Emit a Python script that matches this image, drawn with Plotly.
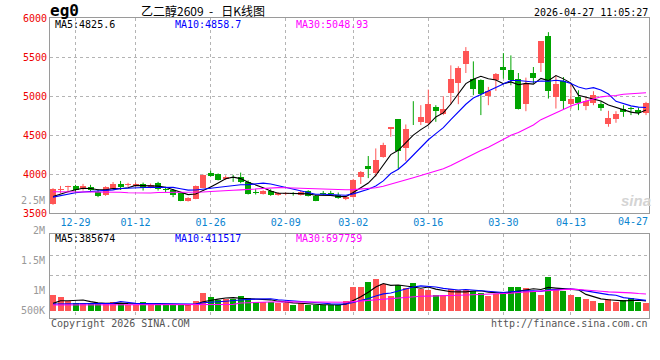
import plotly.graph_objects as go

# ---------------- data ----------------
dates = ["12-24","12-25","12-26","12-29","12-30","12-31","01-05","01-06","01-07","01-08",
         "01-09","01-12","01-13","01-14","01-15","01-16","01-19","01-20","01-21","01-22",
         "01-23","01-26","01-27","01-28","01-29","01-30","02-02","02-03","02-04","02-05",
         "02-06","02-09","02-10","02-11","02-12","02-13","02-24","02-25","02-26","02-27",
         "03-02","03-03","03-04","03-05","03-06","03-09","03-10","03-11","03-12","03-13",
         "03-16","03-17","03-18","03-19","03-20","03-23","03-24","03-25","03-26","03-27",
         "03-30","03-31","04-01","04-02","04-03","04-07","04-08","04-09","04-10","04-13",
         "04-14","04-15","04-16","04-17","04-20","04-21","04-22","04-23","04-24","04-27"]

opens = [3621,3800,3830,3850,3808,3834,3778,3736,3808,3876,
         3860,3851,3876,3834,3885,3812,3800,3757,3663,3685,
         3829,4021,4004,3936,3955,3961,3906,3778,3749,3791,
         3740,3745,3752,3738,3787,3723,3762,3755,3736,3681,
         3712,3962,4106,4012,4225,4582,4701,4340,4655,4671,
         4660,4863,4769,5041,5169,5415,5224,5211,5003,5211,
         5373,5330,5224,4905,5301,5424,5764,4990,5190,4897,
         4990,4871,4914,4905,4642,4701,4829,4845,4820,4786]
highs = [3821,3850,3852,3864,3876,3864,3808,3845,3900,3914,
         3890,3893,3893,3880,3902,3838,3812,3770,3706,3855,
         3995,4045,4010,3985,3991,4021,3920,3808,3795,3808,
         3770,3766,3770,3787,3795,3736,3785,3787,3766,3720,
         3940,4040,4233,4330,4403,4603,4705,4637,4935,4884,
         5084,4884,4999,5394,5382,5628,5445,5215,5118,5296,
         5551,5522,5296,5237,5373,5705,5819,5267,5245,5152,
         5075,4990,5063,4935,4812,4807,4884,4863,4854,4927]
lows = [3608,3757,3778,3770,3791,3770,3706,3723,3800,3800,
        3838,3838,3791,3821,3791,3770,3706,3655,3650,3680,
        3825,3970,3920,3925,3902,3885,3740,3740,3740,3723,
        3725,3730,3725,3727,3715,3655,3735,3723,3685,3668,
        3700,3875,3950,3970,4212,4480,4063,4170,4630,4630,
        4629,4671,4757,4897,4897,5296,5012,4757,4884,5067,
        5224,5139,4829,4807,5160,5309,4969,4841,4833,4841,
        4820,4820,4884,4812,4608,4659,4735,4757,4757,4757]
closes = [3808,3806,3850,3792,3850,3792,3727,3834,3876,3834,
          3866,3876,3821,3864,3808,3793,3736,3663,3694,3851,
          3991,3978,3927,3970,3948,3898,3749,3757,3787,3736,
          3755,3752,3745,3766,3723,3663,3752,3745,3698,3708,
          3927,4029,4072,4182,4374,4600,4301,4578,4650,4727,
          4897,4812,4841,5216,5360,5573,5097,5024,5063,5279,
          5339,5203,4841,5152,5237,5700,5067,5160,4939,4969,
          4914,4939,5012,4854,4714,4769,4799,4838,4786,4914]

ma5 = [3715,3750,3775,3800,3821,3818,3802,3799,3816,3813,
       3827,3857,3855,3852,3847,3832,3804,3773,3739,3747,
       3787,3835,3888,3943,3963,3944,3898,3864,3828,3785,
       3757,3757,3755,3751,3748,3730,3729,3729,3716,3713,
       3766,3821,3887,3984,4117,4251,4306,4407,4501,4571,
       4631,4733,4785,4899,5025,5160,5217,5254,5223,5207,
       5160,5182,5145,5163,5154,5227,5199,5263,5221,5167,
       5010,4984,4955,4938,4887,4858,4830,4795,4781,4821]
ma10 = [3707,3728,3748,3762,3772,3778,3782,3788,3800,3817,
        3823,3830,3827,3834,3830,3830,3831,3814,3796,3797,
        3810,3820,3831,3841,3855,3866,3867,3876,3886,3874,
        3851,3828,3810,3789,3767,3743,3743,3742,3733,3731,
        3748,3775,3808,3850,3915,4009,4064,4147,4242,4344,
        4441,4519,4596,4700,4798,4896,4975,5020,5061,5116,
        5160,5200,5200,5193,5181,5194,5191,5204,5192,5161,
        5118,5092,5109,5079,5027,4934,4907,4875,4859,4854]
ma30 = [3775,3775,3775,3775,3775,3770,3770,3770,3770,3770,
        3762,3760,3760,3760,3765,3765,3765,3765,3765,3766,
        3772,3778,3786,3791,3795,3800,3806,3815,3822,3829,
        3828,3826,3822,3822,3817,3813,3814,3811,3805,3801,
        3803,3808,3816,3827,3846,3873,3891,3922,3954,3983,
        4013,4041,4071,4113,4160,4216,4261,4303,4346,4397,
        4450,4498,4535,4581,4631,4699,4743,4790,4832,4874,
        4907,4937,4968,4991,5002,5008,5024,5033,5037,5044]

volumes = [634500,553500,391500,297000,297000,297000,297000,297000,351000,297000,
           229500,229500,351000,270000,310500,229500,229500,229500,229500,391500,
           729000,567000,432000,459000,459000,594000,513000,364500,364500,364500,
           324000,297000,229500,297000,229500,229500,229500,229500,229500,405000,
           972000,972000,1174500,1282500,1093500,607500,1053000,904500,1134000,864000,
           837000,634500,634500,877500,837000,837000,796500,702000,594000,675000,
           769500,972000,972000,918000,810000,634500,1377000,837000,810000,634500,
           553500,472500,405000,324000,459000,364500,432000,499500,364500,324000]
vol_ma5 = [297000,405000,405000,405000,434700,367200,315900,297000,307800,307800,
           294300,280800,291600,275400,278100,278100,278100,253800,245700,261900,
           361800,429300,469800,515700,529200,502200,491400,477900,459000,440100,
           386100,342900,315900,302400,275400,256500,243000,243000,229500,264600,
           413100,561600,750600,961200,1098900,1026000,1042200,988200,958500,912600,
           958500,874800,820800,769500,764100,764100,796500,810000,753300,720900,
           707400,742500,796500,861300,888300,861300,942300,915300,893700,858600,
           842400,661500,575100,477900,442800,405000,396900,415800,423900,396900]
vol_ma10 = [270000,270000,270000,270000,297000,297000,297000,297000,297000,371250,
            330750,298350,294300,291600,292950,286200,279450,272700,260550,270000,
            319950,353700,361800,380700,395550,432000,460350,473850,487350,484650,
            444150,417150,396900,380700,357750,321300,292950,279450,265950,270000,
            334800,402300,496800,595350,681750,719550,801900,869400,959850,1005750,
            992250,958500,904500,864000,838350,861300,835650,815400,761400,742500,
            735750,769500,803250,807300,804600,784350,842400,855900,877500,873450,
            851850,801900,745200,685800,650700,623700,529200,495450,450900,419850]
vol_ma30 = [229500,229500,229500,229500,229500,229500,229500,229500,229500,229500,
            229500,229500,229500,229500,229500,229500,229500,229500,229500,229500,
            256500,256500,256500,256500,256500,310500,324000,344250,357750,375300,
            364500,356400,351000,351000,348300,346950,344250,341550,337500,341550,
            365850,391500,418500,452250,477900,491400,518400,541350,571050,587250,
            589950,592650,599400,612900,626400,634500,643950,654750,662850,672300,
            687150,710100,734400,756000,774900,788400,826200,846450,866700,873450,
            859950,843750,818100,785700,764100,756000,735750,722250,696600,679050]

tick_dates = ["12-29", "01-12", "01-26", "02-09", "03-02", "03-16", "03-30", "04-13"]
end_date_label = "04-27"
price_ticks = [3500, 4000, 4500, 5000, 5500, 6000]
vol_axis_labels = ["2.5M", "2M", "1.5M", "1M", "500K"]
price_legend = ["MA5:4825.6", "MA10:4858.7", "MA30:5048.93"]
vol_legend = ["MA5:385674", "MA10:411517", "MA30:697759"]
title_code = "eg0"
title_name = "乙二醇2609&nbsp;&nbsp;-&nbsp;&nbsp; 日K线图"
timestamp = "2026-04-27 11:05:27"
footer_left = "Copyright 2026 SINA.COM"
footer_right = "http://finance.sina.com.cn"

# ---------------- styling ----------------
RED = "#ff5555"
GREEN = "#00a400"
MA_COLORS = ["#000000", "#0000ff", "#ff00ff"]
GRID = "#b4b4b4"
BORDER = "#9a9a9a"
MONO = "DejaVu Sans Mono"

W, H = 660, 360
ML, MR, MT, MB = 50, 11, 18, 42
PW, PH = W - ML - MR, H - MT - MB


def px(x):
    return (x - ML) / PW


def py(y):
    return (H - MB - y) / PH


idx = list(range(len(dates)))
colors = [RED if c >= o else GREEN for o, c in zip(opens, closes)]
body_base = [min(o, c) for o, c in zip(opens, closes)]
body_h = [max(abs(c - o), 10) for o, c in zip(opens, closes)]

fig = go.Figure()

# wicks
for col in (RED, GREEN):
    xs, ys = [], []
    for i in idx:
        if colors[i] == col:
            xs += [i, i, None]
            ys += [lows[i], highs[i], None]
    fig.add_trace(go.Scatter(x=xs, y=ys, mode="lines", line=dict(color=col, width=1),
                             xaxis="x", yaxis="y", hoverinfo="skip", showlegend=False))

# bodies
fig.add_trace(go.Bar(x=idx, y=body_h, base=body_base, width=0.8,
                     marker=dict(color=colors, line=dict(width=0)),
                     xaxis="x", yaxis="y", showlegend=False))

for series, col in zip([ma5, ma10, ma30], MA_COLORS):
    fig.add_trace(go.Scatter(x=idx, y=series, mode="lines", line=dict(color=col, width=1.1),
                             xaxis="x", yaxis="y", showlegend=False))

# volume
fig.add_trace(go.Bar(x=idx, y=volumes, width=0.8,
                     marker=dict(color=colors, line=dict(width=0)),
                     xaxis="x2", yaxis="y2", showlegend=False))
for series, col in zip([vol_ma5, vol_ma10, vol_ma30], MA_COLORS):
    fig.add_trace(go.Scatter(x=idx, y=series, mode="lines", line=dict(color=col, width=1.1),
                             xaxis="x2", yaxis="y2", showlegend=False))

tickvals = [dates.index(d) for d in tick_dates]
xr = [-0.4, len(dates) - 0.6]

main_bottom = 213.3
vol_top = 234.3
vol_zero_px = 310.7
vol_per_px = 40500

axis_common = dict(showline=True, mirror=True, linecolor=BORDER, linewidth=1,
                   zeroline=False, gridcolor=GRID, griddash="dot", gridwidth=1)

fig.update_layout(
    width=W, height=H,
    margin=dict(l=ML, r=MR, t=MT, b=MB),
    paper_bgcolor="white", plot_bgcolor="white",
    barmode="overlay", bargap=0,
    showlegend=False,
    xaxis=dict(domain=[0, 1], anchor="y", range=xr, tickmode="array",
               tickvals=tickvals, ticktext=tick_dates, showgrid=True, ticks="",
               tickfont=dict(family=MONO, size=10, color="#0a84d0"), **axis_common),
    yaxis=dict(domain=[py(main_bottom), 1], anchor="x", range=[3499.5, 6000.5],
               tickmode="array", tickvals=price_ticks, showgrid=True, ticks="",
               tickfont=dict(family=MONO, size=10, color="#ee0000"), **axis_common),
    xaxis2=dict(domain=[0, 1], anchor="y2", range=xr, tickmode="array",
                tickvals=tickvals, showticklabels=False, showgrid=True, ticks="",
                **axis_common),
    yaxis2=dict(domain=[0, py(vol_top)], anchor="x2",
                range=[-(H - MB - vol_zero_px) * vol_per_px, (vol_zero_px - vol_top) * vol_per_px],
                tickmode="array",
                tickvals=[(vol_zero_px - 275) * vol_per_px, (vol_zero_px - 255) * vol_per_px],
                showticklabels=False, showgrid=True, ticks="", **axis_common),
)

ann = []


def text(t, x, y, anchor="left", size=10, color="#000", family=MONO, **kw):
    ann.append(dict(text=t, x=px(x), y=py(y), xref="paper", yref="paper",
                    xanchor=anchor, yanchor="middle", showarrow=False,
                    font=dict(family=family, size=size, color=color), **kw))


text("<b>" + title_code + "</b>", 48, 10.5, size=16)
text(title_name, 139, 10.5, size=12, family="Noto Sans CJK SC")
text(timestamp, 650, 12.5, anchor="right")
for t, x, c in zip(price_legend, [53, 173, 294], MA_COLORS):
    text(t, x, 24.5, color=c)
for t, x, c in zip(vol_legend, [53, 173, 294], MA_COLORS):
    text(t, x, 238.5, color=c)
for t, y in zip(vol_axis_labels, [200.7, 230.7, 260.7, 290.7, 310.7]):
    text(t, 47, y, anchor="right", color="#999999")
text(end_date_label, 650, 221.7, anchor="right", color="#0a84d0")
text(footer_left, 49, 323.5, color="#555555")
text(footer_right, 650, 323.5, anchor="right", color="#555555")
text("<b><i>sina</i></b>", 636, 200, anchor="center", size=15, color="#d4d4d4",
     family="Liberation Sans")

fig.update_layout(annotations=ann)
fig.write_html("out.html",
               config={"displayModeBar": False, "staticPlot": True},
               post_script="document.body.style.margin='0';document.body.style.padding='0';")
